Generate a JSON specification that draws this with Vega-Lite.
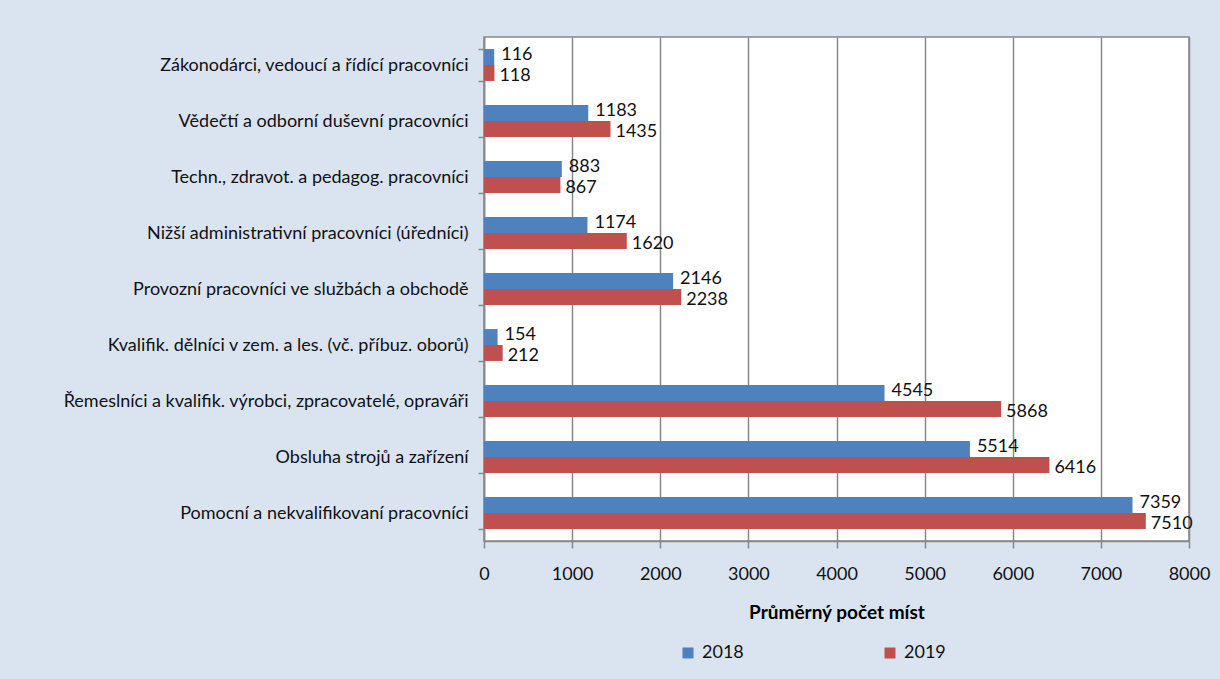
{
  "$schema": "https://vega.github.io/schema/vega-lite/v6.json",
  "width": 705,
  "height": 504,
  "autosize": {"type": "none"},
  "padding": {"left": 484, "top": 37, "right": 31, "bottom": 138},
  "background": "#dae4f1",
  "config": {
    "font": "Lato",
    "view": {"fill": "white", "stroke": "#888888", "strokeWidth": 1.5},
    "axis": {"labelFont": "Lato", "labelColor": "#111111", "domainColor": "#888888", "tickColor": "#888888", "domainWidth": 1.5, "tickWidth": 1.5}
  },
  "data": {
    "values": [
      {"kategorie": "Zákonodárci, vedoucí a řídící pracovníci", "rok": "2018", "pocet": 116},
      {"kategorie": "Zákonodárci, vedoucí a řídící pracovníci", "rok": "2019", "pocet": 118},
      {"kategorie": "Vědečtí a odborní duševní pracovníci", "rok": "2018", "pocet": 1183},
      {"kategorie": "Vědečtí a odborní duševní pracovníci", "rok": "2019", "pocet": 1435},
      {"kategorie": "Techn., zdravot. a pedagog. pracovníci", "rok": "2018", "pocet": 883},
      {"kategorie": "Techn., zdravot. a pedagog. pracovníci", "rok": "2019", "pocet": 867},
      {"kategorie": "Nižší administrativní pracovníci (úředníci)", "rok": "2018", "pocet": 1174},
      {"kategorie": "Nižší administrativní pracovníci (úředníci)", "rok": "2019", "pocet": 1620},
      {"kategorie": "Provozní pracovníci ve službách a obchodě", "rok": "2018", "pocet": 2146},
      {"kategorie": "Provozní pracovníci ve službách a obchodě", "rok": "2019", "pocet": 2238},
      {"kategorie": "Kvalifik. dělníci v zem. a les. (vč. příbuz. oborů)", "rok": "2018", "pocet": 154},
      {"kategorie": "Kvalifik. dělníci v zem. a les. (vč. příbuz. oborů)", "rok": "2019", "pocet": 212},
      {"kategorie": "Řemeslníci a kvalifik. výrobci, zpracovatelé, opraváři", "rok": "2018", "pocet": 4545},
      {"kategorie": "Řemeslníci a kvalifik. výrobci, zpracovatelé, opraváři", "rok": "2019", "pocet": 5868},
      {"kategorie": "Obsluha strojů a zařízení", "rok": "2018", "pocet": 5514},
      {"kategorie": "Obsluha strojů a zařízení", "rok": "2019", "pocet": 6416},
      {"kategorie": "Pomocní a nekvalifikovaní pracovníci", "rok": "2018", "pocet": 7359},
      {"kategorie": "Pomocní a nekvalifikovaní pracovníci", "rok": "2019", "pocet": 7510}
    ]
  },
  "encoding": {
    "y": {
      "field": "kategorie",
      "type": "nominal",
      "sort": null,
      "scale": {"paddingInner": 0.43, "paddingOuter": 0.215},
      "axis": {"title": null, "tickBand": "extent", "tickSize": 6, "labelPadding": 10, "labelLimit": 480, "labelFontSize": 18, "grid": false}
    },
    "yOffset": {"field": "rok", "type": "nominal", "scale": {"paddingInner": 0, "paddingOuter": 0}},
    "x": {
      "field": "pocet",
      "type": "quantitative",
      "scale": {"domain": [0, 8000], "nice": false},
      "axis": {
        "title": "Průměrný počet míst",
        "titleFont": "Lato",
        "titleFontSize": 19,
        "titleFontWeight": "bold",
        "titleColor": "#000000",
        "titlePadding": 20,
        "values": [0, 1000, 2000, 3000, 4000, 5000, 6000, 7000, 8000],
        "format": "d",
        "tickSize": 7,
        "labelPadding": 17,
        "labelFontSize": 18,
        "labelFlush": false,
        "grid": true,
        "gridColor": "#888888",
        "gridWidth": 1.5
      }
    }
  },
  "layer": [
    {
      "mark": {"type": "bar"},
      "encoding": {
        "color": {
          "field": "rok",
          "type": "nominal",
          "scale": {"domain": ["2018", "2019"], "range": ["#4f81bd", "#c0504d"]},
          "legend": {
            "title": null,
            "orient": "none",
            "legendX": 195,
            "legendY": 607,
            "direction": "horizontal",
            "symbolType": "square",
            "symbolSize": 121,
            "symbolStrokeWidth": 0,
            "labelFont": "Lato",
            "labelFontSize": 18,
            "labelColor": "#111111",
            "labelOffset": 5,
            "columnPadding": 137
          }
        }
      }
    },
    {
      "transform": [{"filter": "datum.rok === '2018'"}],
      "mark": {"type": "text", "align": "left", "baseline": "middle", "dx": 7, "dy": -2, "fontSize": 18, "font": "Lato", "color": "#111111"},
      "encoding": {
        "text": {"field": "pocet", "type": "quantitative", "format": "d"}
      }
    },
    {
      "transform": [{"filter": "datum.rok === '2019'"}],
      "mark": {"type": "text", "align": "left", "baseline": "middle", "dx": 5, "dy": 3, "fontSize": 18, "font": "Lato", "color": "#111111"},
      "encoding": {
        "text": {"field": "pocet", "type": "quantitative", "format": "d"}
      }
    }
  ]
}
